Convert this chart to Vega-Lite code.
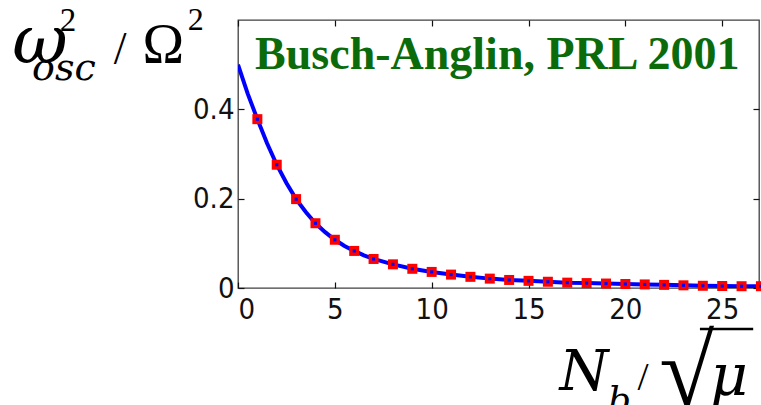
{
  "$schema": "https://vega.github.io/schema/vega-lite/v6.json",
  "width": 521,
  "height": 268,
  "autosize": "none",
  "padding": {"left": 238, "top": 20, "right": 2, "bottom": 117},
  "background": "white",
  "config": {
    "view": {"stroke": "#404040", "strokeWidth": 1.3},
    "axis": {
      "domain": false,
      "grid": false,
      "ticks": true,
      "tickColor": "#111111",
      "tickSize": -6,
      "tickWidth": 1.2,
      "labelFont": "'DejaVu Sans Condensed', 'Liberation Sans', sans-serif",
      "labelFontSize": 29,
      "labelColor": "#111111",
      "title": null
    }
  },
  "datasets": {
    "curve": [
      {"x": 0, "y": 0.5}, {"x": 0.5, "y": 0.435}, {"x": 1, "y": 0.378}, {"x": 1.5, "y": 0.324},
      {"x": 2, "y": 0.276}, {"x": 2.5, "y": 0.235}, {"x": 3, "y": 0.199}, {"x": 3.5, "y": 0.17},
      {"x": 4, "y": 0.145}, {"x": 4.5, "y": 0.125}, {"x": 5, "y": 0.108}, {"x": 5.5, "y": 0.094},
      {"x": 6, "y": 0.083}, {"x": 6.5, "y": 0.073}, {"x": 7, "y": 0.065}, {"x": 8, "y": 0.053},
      {"x": 9, "y": 0.043}, {"x": 10, "y": 0.036}, {"x": 11, "y": 0.03}, {"x": 12, "y": 0.025},
      {"x": 13, "y": 0.021}, {"x": 14, "y": 0.018}, {"x": 15, "y": 0.016}, {"x": 16, "y": 0.014},
      {"x": 17, "y": 0.012}, {"x": 18, "y": 0.011}, {"x": 19, "y": 0.01}, {"x": 20, "y": 0.009},
      {"x": 21, "y": 0.008}, {"x": 22, "y": 0.007}, {"x": 23, "y": 0.006}, {"x": 24, "y": 0.005},
      {"x": 25, "y": 0.0045}, {"x": 26, "y": 0.004}, {"x": 27, "y": 0.004}
    ],
    "markers": [
      {"x": 1, "y": 0.378}, {"x": 2, "y": 0.276}, {"x": 3, "y": 0.199}, {"x": 4, "y": 0.145},
      {"x": 5, "y": 0.108}, {"x": 6, "y": 0.083}, {"x": 7, "y": 0.065}, {"x": 8, "y": 0.053},
      {"x": 9, "y": 0.043}, {"x": 10, "y": 0.036}, {"x": 11, "y": 0.03}, {"x": 12, "y": 0.025},
      {"x": 13, "y": 0.021}, {"x": 14, "y": 0.018}, {"x": 15, "y": 0.016}, {"x": 16, "y": 0.014},
      {"x": 17, "y": 0.012}, {"x": 18, "y": 0.011}, {"x": 19, "y": 0.01}, {"x": 20, "y": 0.009},
      {"x": 21, "y": 0.008}, {"x": 22, "y": 0.007}, {"x": 23, "y": 0.006}, {"x": 24, "y": 0.005},
      {"x": 25, "y": 0.0045}, {"x": 26, "y": 0.004}, {"x": 27, "y": 0.004}
    ],
    "one": [{}]
  },
  "resolve": {"axis": {"x": "independent", "y": "independent"}},
  "layer": [
    {
      "data": {"name": "curve"},
      "mark": {"type": "line", "color": "#0000ff", "strokeWidth": 4, "clip": true},
      "encoding": {
        "x": {"field": "x", "type": "quantitative",
              "scale": {"domain": [0, 26.9], "nice": false, "zero": false},
              "axis": {"orient": "bottom", "values": [0, 5, 10, 15, 20, 25], "labelPadding": 13}},
        "y": {"field": "y", "type": "quantitative",
              "scale": {"domain": [0, 0.6], "nice": false},
              "axis": {"orient": "left", "values": [0, 0.2, 0.4], "format": "~g", "labelPadding": 10}}
      }
    },
    {
      "data": {"name": "markers"},
      "mark": {"type": "point", "shape": "square", "filled": true, "color": "#ff0000", "opacity": 1, "size": 100},
      "encoding": {
        "x": {"field": "x", "type": "quantitative",
              "axis": {"orient": "top", "values": [0, 5, 10, 15, 20, 25], "labels": false}},
        "y": {"field": "y", "type": "quantitative",
              "axis": {"orient": "right", "values": [0, 0.2, 0.4], "labels": false}}
      }
    },
    {
      "data": {"name": "markers"},
      "mark": {"type": "point", "shape": "square", "filled": true, "color": "#0000ff", "opacity": 1, "size": 10},
      "encoding": {
        "x": {"field": "x", "type": "quantitative", "axis": null},
        "y": {"field": "y", "type": "quantitative", "axis": null}
      }
    },
    {
      "data": {"name": "one"},
      "mark": {"type": "text", "text": "Busch-Anglin, PRL 2001", "font": "Liberation Serif", "fontWeight": "bold", "fontSize": 46, "color": "#0b6b0b", "align": "left", "baseline": "alphabetic", "clip": false},
      "encoding": {"x": {"datum": 0.88, "type": "quantitative", "axis": null}, "y": {"datum": 0.49, "type": "quantitative", "axis": null}}
    },
    {
      "data": {"name": "one"},
      "mark": {"type": "text", "text": "ω", "font": "DejaVu Serif", "fontStyle": "italic", "fontSize": 68, "color": "#000000", "align": "center", "baseline": "alphabetic", "clip": false},
      "encoding": {"x": {"datum": -10.22, "type": "quantitative", "axis": null}, "y": {"datum": 0.504, "type": "quantitative", "axis": null}}
    },
    {
      "data": {"name": "one"},
      "mark": {"type": "text", "text": "2", "font": "Liberation Serif", "fontWeight": "normal", "fontSize": 33, "color": "#000000", "align": "left", "baseline": "alphabetic", "clip": false},
      "encoding": {"x": {"datum": -9.2, "type": "quantitative", "axis": null}, "y": {"datum": 0.576, "type": "quantitative", "axis": null}}
    },
    {
      "data": {"name": "one"},
      "mark": {"type": "text", "text": "osc", "font": "DejaVu Serif", "fontStyle": "italic", "fontSize": 38, "color": "#000000", "align": "left", "baseline": "alphabetic", "clip": false},
      "encoding": {"x": {"datum": -10.63, "type": "quantitative", "axis": null}, "y": {"datum": 0.466, "type": "quantitative", "axis": null}}
    },
    {
      "data": {"name": "one"},
      "mark": {"type": "text", "text": "/", "font": "Liberation Serif", "fontWeight": "normal", "fontSize": 46, "color": "#000000", "align": "center", "baseline": "alphabetic", "clip": false},
      "encoding": {"x": {"datum": -6.09, "type": "quantitative", "axis": null}, "y": {"datum": 0.501, "type": "quantitative", "axis": null}}
    },
    {
      "data": {"name": "one"},
      "mark": {"type": "text", "text": "Ω", "font": "Liberation Serif", "fontWeight": "normal", "fontSize": 56, "color": "#000000", "align": "center", "baseline": "alphabetic", "clip": false},
      "encoding": {"x": {"datum": -3.85, "type": "quantitative", "axis": null}, "y": {"datum": 0.504, "type": "quantitative", "axis": null}}
    },
    {
      "data": {"name": "one"},
      "mark": {"type": "text", "text": "2", "font": "Liberation Serif", "fontWeight": "normal", "fontSize": 32, "color": "#000000", "align": "left", "baseline": "alphabetic", "clip": false},
      "encoding": {"x": {"datum": -2.6, "type": "quantitative", "axis": null}, "y": {"datum": 0.578, "type": "quantitative", "axis": null}}
    },
    {
      "data": {"name": "one"},
      "mark": {"type": "text", "text": "N", "font": "DejaVu Serif", "fontStyle": "italic", "fontSize": 56, "color": "#000000", "align": "center", "baseline": "alphabetic", "clip": false},
      "encoding": {"x": {"datum": 17.86, "type": "quantitative", "axis": null}, "y": {"datum": -0.228, "type": "quantitative", "axis": null}}
    },
    {
      "data": {"name": "one"},
      "mark": {"type": "text", "text": "b", "font": "DejaVu Serif", "fontStyle": "italic", "fontSize": 36, "color": "#000000", "align": "left", "baseline": "alphabetic", "clip": false},
      "encoding": {"x": {"datum": 19.1, "type": "quantitative", "axis": null}, "y": {"datum": -0.278, "type": "quantitative", "axis": null}}
    },
    {
      "data": {"name": "one"},
      "mark": {"type": "text", "text": "/", "font": "Liberation Serif", "fontWeight": "normal", "fontSize": 40, "color": "#000000", "align": "center", "baseline": "alphabetic", "clip": false},
      "encoding": {"x": {"datum": 20.91, "type": "quantitative", "axis": null}, "y": {"datum": -0.228, "type": "quantitative", "axis": null}}
    },
    {
      "data": {"name": "one"},
      "mark": {"type": "text", "text": "√", "font": "Liberation Serif", "fontWeight": "normal", "fontSize": 100, "color": "#000000", "align": "left", "baseline": "alphabetic", "clip": false},
      "encoding": {"x": {"datum": 21.75, "type": "quantitative", "axis": null}, "y": {"datum": -0.262, "type": "quantitative", "axis": null}}
    },
    {
      "data": {"name": "one"},
      "mark": {"type": "rule", "color": "#000000", "strokeWidth": 2.5, "clip": false},
      "encoding": {"x": {"datum": 23.85, "type": "quantitative", "axis": null}, "x2": {"datum": 26.6}, "y": {"datum": -0.092, "type": "quantitative", "axis": null}}
    },
    {
      "data": {"name": "one"},
      "mark": {"type": "text", "text": "μ", "font": "DejaVu Serif", "fontStyle": "italic", "fontSize": 58, "color": "#000000", "align": "center", "baseline": "alphabetic", "clip": false},
      "encoding": {"x": {"datum": 25.35, "type": "quantitative", "axis": null}, "y": {"datum": -0.24, "type": "quantitative", "axis": null}}
    }
  ]
}
